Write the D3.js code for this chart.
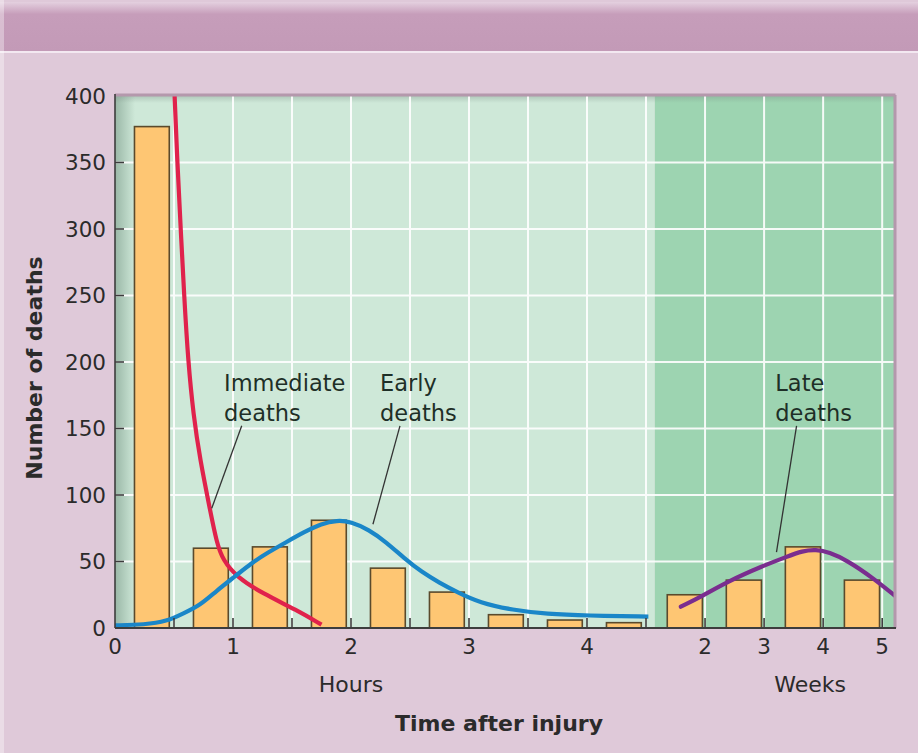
<!DOCTYPE html>
<html>
<head>
<meta charset="utf-8">
<script src="https://cdn.jsdelivr.net/npm/d3@7"></script>
<style>
  html, body { margin: 0; padding: 0; background: #dfc9d9; }
  svg { display: block; }
  text { font-family: "DejaVu Sans", sans-serif; }
</style>
</head>
<body>
<svg id="chart" width="918" height="753"></svg>
<script>
// ---------------- DATA ----------------
const hourBinStart = [0, 0.5, 1, 1.5, 2, 2.5, 3, 3.5, 4];
const hourDeaths   = [377, 60, 61, 81, 45, 27, 10, 6, 4];
const weekBinStart = [1, 2, 3, 4];
const weekDeaths   = [25, 36, 61, 36];

const yTicks     = [0, 50, 100, 150, 200, 250, 300, 350, 400];
const hourTicks  = [0, 1, 2, 3, 4];
const hourGrid   = [0.5, 1, 1.5, 2, 2.5, 3, 3.5, 4, 4.5];
const weekTicks  = [2, 3, 4, 5];

// Immediate deaths curve (hours, deaths)
const immediateHours  = [0.503, 0.528, 0.557, 0.586, 0.62, 0.665, 0.72, 0.805, 0.862, 0.915, 1.03, 1.25, 1.54, 1.75];
const immediateDeaths = [405, 350, 300, 250, 200, 160, 127, 89, 64, 51, 38.5, 26, 13.5, 2.5];
// Early deaths curve (hours, deaths)
const earlyHours  = [0, 0.25, 0.44, 0.58, 0.72, 0.86, 1.02, 1.16, 1.3, 1.45, 1.6, 1.75, 1.88, 2.0, 2.15, 2.3, 2.45, 2.6, 2.75, 2.9, 3.09, 3.37, 3.66, 4.0, 4.52];
const earlyDeaths = [2, 2.5, 5, 11, 17, 28, 39, 49, 57, 64.5, 72, 78.5, 81, 80, 74, 64.5, 52.5, 42, 34, 27, 19, 13.5, 10.5, 9.3, 8.6];
// Late deaths curve (weeks, deaths)
const lateWeeks  = [1.59, 1.95, 2.41, 2.97, 3.38, 3.65, 3.88, 4.1, 4.4, 4.85, 5.25];
const lateDeaths = [16, 24, 35.5, 46.5, 53.5, 58, 59, 57, 51, 37.5, 23];

// annotation anchors in data units
const annotations = [
  { lines: ["Immediate", "deaths"], scale: "h", tx: 0.924, ty: 178, x1: 1.074, y1: 152, x2: 0.82, y2: 90 },
  { lines: ["Early", "deaths"],     scale: "h", tx: 2.246, ty: 178, x1: 2.415, y1: 152, x2: 2.186, y2: 78 },
  { lines: ["Late", "deaths"],      scale: "w", tx: 3.19,  ty: 178, x1: 3.55,  y1: 152, x2: 3.21,  y2: 57 }
];

// ---------------- LAYOUT ----------------
const W = 918, H = 753;
const L = 115, R = 894, T = 96, B = 628, SPLIT = 646;

const svg = d3.select("#chart");
const defs = svg.append("defs");

const xH = d3.scaleLinear().domain([0, 4.5]).range([L, SPLIT]);
const xW = d3.scaleLinear().domain([1, 5.2]).range([SPLIT, R]);
const y  = d3.scaleLinear().domain([0, 400]).range([B, T]);

// background
svg.append("rect").attr("width", W).attr("height", H).attr("fill", "#dfc9d9");

// banner
const bg = defs.append("linearGradient").attr("id", "banner").attr("x1", 0).attr("y1", 0).attr("x2", 0).attr("y2", 1);
bg.append("stop").attr("offset", "0%").attr("stop-color", "#e4d0df");
bg.append("stop").attr("offset", "25%").attr("stop-color", "#c69dba");
bg.append("stop").attr("offset", "100%").attr("stop-color", "#c39ab7");
svg.append("rect").attr("x", 0).attr("y", 2).attr("width", W).attr("height", 49).attr("fill", "url(#banner)");
svg.append("rect").attr("x", 0).attr("y", 51).attr("width", W).attr("height", 2).attr("fill", "#f3e8f1");
svg.append("rect").attr("x", 0).attr("y", 0).attr("width", 4).attr("height", H).attr("fill", "#ffffff").attr("opacity", 0.35);

// clip
defs.append("clipPath").attr("id", "plotclip")
  .append("rect").attr("x", L).attr("y", T).attr("width", R - L).attr("height", B - T);

const plot = svg.append("g").attr("clip-path", "url(#plotclip)");

// regions
plot.append("rect").attr("x", L).attr("y", T).attr("width", xW(1.15) - L).attr("height", B - T).attr("fill", "#cee8d8");
plot.append("rect").attr("x", xW(1.15)).attr("y", T).attr("width", R - xW(1.15)).attr("height", B - T).attr("fill", "#9dd4b1");

// left / top inner shading
const lg = defs.append("linearGradient").attr("id", "leftshade").attr("x1", 0).attr("y1", 0).attr("x2", 1).attr("y2", 0);
lg.append("stop").attr("offset", "0%").attr("stop-color", "#6f8f7e").attr("stop-opacity", 0.55);
lg.append("stop").attr("offset", "100%").attr("stop-color", "#6f8f7e").attr("stop-opacity", 0);
plot.append("rect").attr("x", L).attr("y", T).attr("width", 20).attr("height", B - T).attr("fill", "url(#leftshade)");
const tg = defs.append("linearGradient").attr("id", "topshade").attr("x1", 0).attr("y1", 0).attr("x2", 0).attr("y2", 1);
tg.append("stop").attr("offset", "0%").attr("stop-color", "#7a8f85").attr("stop-opacity", 0.35);
tg.append("stop").attr("offset", "100%").attr("stop-color", "#7a8f85").attr("stop-opacity", 0);
plot.append("rect").attr("x", L).attr("y", T).attr("width", R - L).attr("height", 7).attr("fill", "url(#topshade)");

// grid
const grid = plot.append("g").attr("stroke", "#ffffff").attr("stroke-width", 2).attr("opacity", 0.9);
yTicks.filter(v => v > 0 && v < 400).forEach(v => {
  grid.append("line").attr("x1", L).attr("x2", R).attr("y1", y(v)).attr("y2", y(v));
});
hourGrid.forEach(h => {
  grid.append("line").attr("x1", xH(h)).attr("x2", xH(h)).attr("y1", T).attr("y2", B);
});
weekTicks.forEach(w => {
  grid.append("line").attr("x1", xW(w)).attr("x2", xW(w)).attr("y1", T).attr("y2", B);
});

// bars
const barFill = "#fec673", barStroke = "#5a4a2c";
plot.selectAll("rect.hbar").data(hourBinStart).enter().append("rect")
  .attr("class", "hbar")
  .attr("x", (d) => xH(d + 0.165))
  .attr("width", (d) => xH(d + 0.46) - xH(d + 0.165))
  .attr("y", (d, i) => y(hourDeaths[i]))
  .attr("height", (d, i) => y(0) - y(hourDeaths[i]))
  .attr("fill", barFill).attr("stroke", barStroke).attr("stroke-width", 1.6);
plot.selectAll("rect.wbar").data(weekBinStart).enter().append("rect")
  .attr("class", "wbar")
  .attr("x", (d) => xW(d + 0.36))
  .attr("width", (d) => xW(d + 0.955) - xW(d + 0.36))
  .attr("y", (d, i) => y(weekDeaths[i]))
  .attr("height", (d, i) => y(0) - y(weekDeaths[i]))
  .attr("fill", barFill).attr("stroke", barStroke).attr("stroke-width", 1.6);

// curves
const lineH = d3.line().x(d => xH(d[0])).y(d => y(d[1])).curve(d3.curveBasis);
const lineW = d3.line().x(d => xW(d[0])).y(d => y(d[1])).curve(d3.curveBasis);
plot.append("path").datum(immediateHours.map((h, i) => [h, immediateDeaths[i]]))
  .attr("d", lineH).attr("fill", "none")
  .attr("stroke", "#e0224c").attr("stroke-width", 4.2).attr("stroke-linecap", "butt");
plot.append("path").datum(earlyHours.map((h, i) => [h, earlyDeaths[i]]))
  .attr("d", lineH).attr("fill", "none")
  .attr("stroke", "#1a86c8").attr("stroke-width", 4.2).attr("stroke-linecap", "butt");
plot.append("path").datum(lateWeeks.map((w, i) => [w, lateDeaths[i]]))
  .attr("d", lineW).attr("fill", "none")
  .attr("stroke", "#7a2d8f").attr("stroke-width", 4.2).attr("stroke-linecap", "round");

// annotations
annotations.forEach(a => {
  const sx = a.scale === "h" ? xH : xW;
  plot.append("line").attr("x1", sx(a.x1)).attr("y1", y(a.y1)).attr("x2", sx(a.x2)).attr("y2", y(a.y2))
    .attr("stroke", "#333").attr("stroke-width", 1.3);
  const t = svg.append("text").attr("x", sx(a.tx)).attr("y", y(a.ty))
    .attr("font-size", 22.5).attr("fill", "#1e2f27");
  a.lines.forEach((ln, i) => {
    t.append("tspan").attr("x", sx(a.tx)).attr("dy", i === 0 ? 0 : 30).text(ln);
  });
});

// frame: top & right shadow border
svg.append("line").attr("x1", L).attr("x2", R + 1.5).attr("y1", T - 1).attr("y2", T - 1).attr("stroke", "#b498ac").attr("stroke-width", 3);
svg.append("line").attr("x1", R + 1).attr("x2", R + 1).attr("y1", T - 1).attr("y2", B).attr("stroke", "#b498ac").attr("stroke-width", 3);

// axes lines
svg.append("line").attr("x1", L).attr("x2", L).attr("y1", T - 2).attr("y2", B).attr("stroke", "#3d3d3d").attr("stroke-width", 1.6);
svg.append("line").attr("x1", L).attr("x2", R + 2).attr("y1", B).attr("y2", B).attr("stroke", "#3d3d3d").attr("stroke-width", 1.8);

// inward ticks
const ticks = svg.append("g").attr("stroke", "#3d3d3d").attr("stroke-width", 1.6);
yTicks.filter(v => v > 0 && v < 400).forEach(v => {
  ticks.append("line").attr("x1", L).attr("x2", L + 9).attr("y1", y(v)).attr("y2", y(v));
});
hourGrid.forEach(h => {
  ticks.append("line").attr("x1", xH(h)).attr("x2", xH(h)).attr("y1", B).attr("y2", B - 10);
});
weekTicks.forEach(w => {
  ticks.append("line").attr("x1", xW(w)).attr("x2", xW(w)).attr("y1", B).attr("y2", B - 10);
});

// tick labels
const labCol = "#2b2b2b";
svg.selectAll("text.ylab").data(yTicks).enter().append("text")
  .attr("class", "ylab").attr("x", L - 9).attr("y", d => y(d)).attr("dy", "0.36em")
  .attr("text-anchor", "end").attr("font-size", 21.5).attr("fill", labCol).text(d => d);
svg.selectAll("text.hlab").data(hourTicks).enter().append("text")
  .attr("class", "hlab").attr("x", d => xH(d)).attr("y", 654)
  .attr("text-anchor", "middle").attr("font-size", 21.5).attr("fill", labCol).text(d => d);
svg.selectAll("text.wlab").data(weekTicks).enter().append("text")
  .attr("class", "wlab").attr("x", d => xW(d)).attr("y", 654)
  .attr("text-anchor", "middle").attr("font-size", 21.5).attr("fill", labCol).text(d => d);

// axis titles
svg.append("text").attr("x", xH(2)).attr("y", 692).attr("text-anchor", "middle")
  .attr("font-size", 22).attr("fill", labCol).text("Hours");
svg.append("text").attr("x", xW(3.78)).attr("y", 692).attr("text-anchor", "middle")
  .attr("font-size", 22).attr("fill", labCol).text("Weeks");
svg.append("text").attr("x", 499).attr("y", 731).attr("text-anchor", "middle")
  .attr("font-size", 22).attr("font-weight", "bold").attr("fill", labCol).text("Time after injury");
svg.append("text").attr("transform", "translate(42,368) rotate(-90)").attr("text-anchor", "middle")
  .attr("font-size", 22).attr("font-weight", "bold").attr("fill", labCol).text("Number of deaths");
</script>
</body>
</html>
